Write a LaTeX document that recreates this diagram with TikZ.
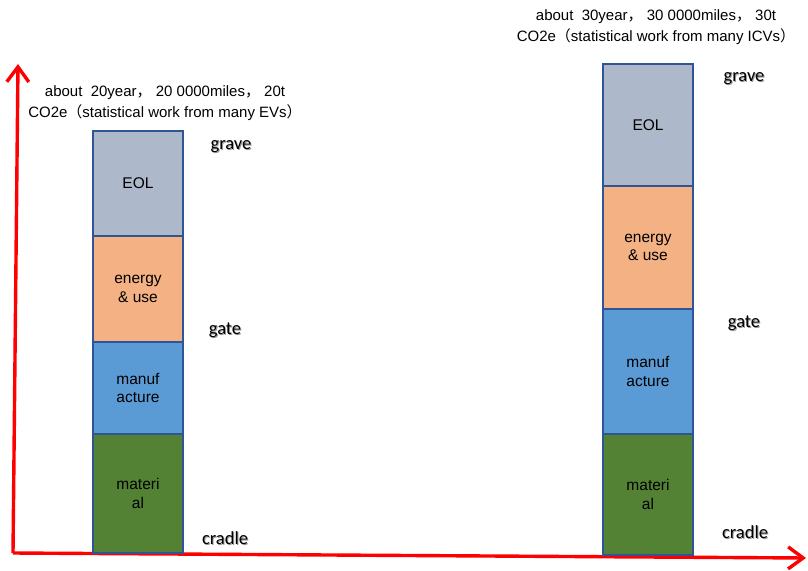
\documentclass[tikz,border=0pt]{standalone}
\usepackage{fontspec}
\setmainfont{Liberation Sans}
\newfontfamily\cjk{Noto Sans CJK SC}
\newfontfamily\stagefont{Carlito}
\usetikzlibrary{arrows.meta}
\definecolor{eolfill}{HTML}{ADB9CA}
\definecolor{energyfill}{HTML}{F4B183}
\definecolor{manuffill}{HTML}{5B9BD5}
\definecolor{matfill}{HTML}{548235}
\definecolor{boxline}{HTML}{2F5597}
\newcommand{\fw}[1]{{\cjk #1}}
\newcommand{\shadowtext}[1]{\rlap{\raisebox{-1pt}{\hspace{1pt}\textcolor{black!40}{#1}}}#1}
\tikzset{
  axis/.style={draw=red, line width=3.4pt, -{Straight Barb[length=15pt,width=22pt,line width=3.4pt]}},
  stage/.style={draw=boxline, line width=2.2pt, minimum width=90pt, inner sep=0pt,
    align=center, font=\fontsize{15.5}{18.5}\selectfont},
  milestone/.style={font=\stagefont\fontsize{18.5}{20}\selectfont, inner sep=0pt},
  summary/.style={align=center, font=\fontsize{15}{21}\selectfont, inner sep=0pt}
}
\begin{document}
\begin{tikzpicture}[x=1pt, y=-1pt]
\useasboundingbox (0,0) rectangle (808,570);

% axes
\coordinate (origin) at (13,553);
\coordinate (yend) at (18,64);
\coordinate (xend) at (806,558);
\draw[axis] (origin) -- (yend);
\draw[axis] (origin) -- (xend);

% electric vehicle column
\node[stage, fill=eolfill, minimum height=105pt] (ev-eol) at (138,183.5) {EOL};
\node[stage, fill=energyfill, minimum height=106pt] (ev-energy) at (138,289) {energy\\\& use};
\node[stage, fill=manuffill, minimum height=92pt] (ev-manuf) at (138,388) {manuf\\acture};
\node[stage, fill=matfill, minimum height=119pt] (ev-mat) at (138,493.5) {materi\\al};

% combustion vehicle column
\node[stage, fill=eolfill, minimum height=122pt] (icv-eol) at (648,125) {EOL};
\node[stage, fill=energyfill, minimum height=123pt] (icv-energy) at (648,247.5) {energy\\\& use};
\node[stage, fill=manuffill, minimum height=125pt] (icv-manuf) at (648,371.5) {manuf\\acture};
\node[stage, fill=matfill, minimum height=121pt] (icv-mat) at (648,494.5) {materi\\al};

% life-cycle milestones
\node[milestone] (ev-grave) at (231,147) {\shadowtext{grave}};
\node[milestone] (ev-gate) at (225,331) {\shadowtext{gate}};
\node[milestone] (ev-cradle) at (225,539) {\shadowtext{cradle}};
\node[milestone] (icv-grave) at (744,79) {\shadowtext{grave}};
\node[milestone] (icv-gate) at (744,323.5) {\shadowtext{gate}};
\node[milestone] (icv-cradle) at (745,533) {\shadowtext{cradle}};

% summaries
\node[summary] (ev-sum) at (165,103.5) {about\ \ 20year\fw{，}\ 20 0000miles\fw{，}\ 20t\\CO2e\fw{（}statistical work from many EVs\fw{）}};
\node[summary] (icv-sum) at (656,27.5) {about\ \ 30year\fw{，}\ 30 0000miles\fw{，}\ 30t\\CO2e\fw{（}statistical work from many ICVs\fw{）}};
\end{tikzpicture}
\end{document}
